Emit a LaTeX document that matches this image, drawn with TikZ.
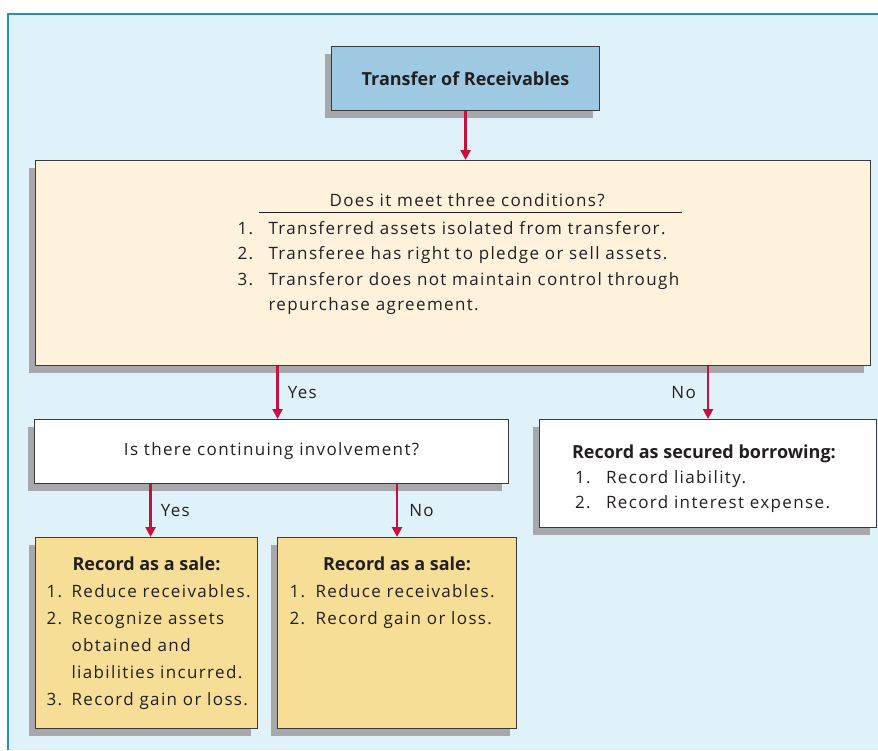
\documentclass[tikz,border=0pt]{standalone}
\usepackage{fontspec}
\setmainfont{Open Sans}[LetterSpace=8]
\newfontfamily\headfont{Open Sans}
\usetikzlibrary{arrows.meta,shadows}

\definecolor{trPanel}{HTML}{DFF2FA}
\definecolor{trPanelEdge}{HTML}{2A8CC4}
\definecolor{trTitle}{HTML}{9DCAE2}
\definecolor{trCream}{HTML}{FEF2DD}
\definecolor{trSale}{HTML}{F6DE96}
\definecolor{trShadow}{HTML}{A6A8AB}
\definecolor{trInk}{HTML}{231F20}
\definecolor{trArrow}{HTML}{C8103E}
\definecolor{trEdge}{HTML}{3A3A3A}

% numbered line with hanging indent: [lead]{indent}{number}{text}
\newcommand{\recitem}[4][0pt]{\par\hangindent=\dimexpr#1+#2\relax
  \noindent\hspace*{#1}\makebox[#2][l]{#3.}#4}
\newcommand{\rechead}[1]{{\headfont\bfseries\fontsize{18}{20}\selectfont #1}}

\begin{document}
\begin{tikzpicture}[
  x=1pt, y=-1pt, text=trInk,
  font=\fontsize{17}{20}\selectfont,
  tr box/.style={draw=trEdge,line width=1.1pt,inner sep=0pt,anchor=north west,
    drop shadow={shadow xshift=-7pt,shadow yshift=-7pt,fill=trShadow,opacity=1}},
  flow arrow/.style={draw=trArrow,line width=2.4pt,
    -{Triangle[width=10pt,length=10pt]}},
  flow label/.style={inner sep=3pt}
]
\useasboundingbox (0,0) rectangle (878,750);

% Panel behind the chart.
\fill[trPanel] (8,14) rectangle (878,750);
\draw[trPanelEdge,line width=2pt] (8,750) -- (8,14) -- (878,14);

% Boxes.
\node[tr box,fill=trTitle,minimum width=268pt,minimum height=64pt]
  (transfer) at (331,46) {\rechead{Transfer of Receivables}};

\node[tr box,fill=trCream,minimum width=835pt,minimum height=205pt]
  (cond) at (35,160) {\hspace{29pt}\parbox{460pt}{\raggedright
    \fontsize{17}{25.5}\selectfont
    \hspace*{21pt}\rlap{\rule[-6pt]{423pt}{0.9pt}}\hspace*{71pt}Does it meet three conditions?\par
    \vspace{2pt}
    \recitem{31pt}{1}{\mbox{Transferred assets isolated from transferor.}}
    \recitem{31pt}{2}{\mbox{Transferee has right to pledge or sell assets.}}
    \recitem{31pt}{3}{\mbox{Transferor does not maintain control through}\newline
      \mbox{repurchase agreement.}\rule[-22pt]{0pt}{0pt}}}};

\node[tr box,fill=white,minimum width=474pt,minimum height=64pt]
  (invol) at (34,419) {Is there continuing involvement?};

\node[tr box,fill=white,minimum width=337pt,minimum height=108pt]
  (secured) at (539,419) {\parbox{272pt}{\raggedright
    \fontsize{17}{25}\selectfont
    \rule{0pt}{23pt}\mbox{\rechead{Record as secured borrowing:}}\par
    \recitem[3pt]{31pt}{1}{\mbox{Record liability.}}
    \recitem[3pt]{31pt}{2}{\mbox{Record interest expense.}}}};

\node[tr box,fill=trSale,minimum width=222pt,minimum height=191pt]
  (saleRetain) at (35,537) {\parbox[c][175pt][t]{206pt}{\centering
    \fontsize{17}{27}\selectfont
    \rule{0pt}{25pt}\rechead{Record as a sale:}\par
    \raggedright
    \recitem[3pt]{25pt}{1}{\mbox{Reduce receivables.}}
    \recitem[3pt]{25pt}{2}{\mbox{Recognize assets}\newline
      \mbox{obtained and}\newline \mbox{liabilities incurred.}}
    \recitem[3pt]{25pt}{3}{\mbox{Record gain or loss.}}}};

\node[tr box,fill=trSale,minimum width=239pt,minimum height=191pt]
  (saleClean) at (277,537) {\parbox[c][175pt][t]{223pt}{\centering
    \fontsize{17}{27}\selectfont
    \rule{0pt}{25pt}\rechead{Record as a sale:}\par
    \raggedright
    \recitem[4pt]{26pt}{1}{\mbox{Reduce receivables.}}
    \recitem[4pt]{26pt}{2}{\mbox{Record gain or loss.}}}};

% Connectors.
\draw[flow arrow] (transfer.south) -- (transfer.south |- cond.north);
\draw[flow arrow] ([xshift=6pt]invol.north |- cond.south) -- ([xshift=6pt]invol.north)
  node[midway,flow label,anchor=west,xshift=6pt] (condYes) {Yes};
\draw[flow arrow] (secured.north |- cond.south) -- (secured.north)
  node[midway,flow label,anchor=east,xshift=-8pt] (condNo) {No};
\draw[flow arrow] ([xshift=4pt]saleRetain.north |- invol.south) -- ([xshift=4pt]saleRetain.north)
  node[midway,flow label,anchor=west,xshift=6pt] (involYes) {Yes};
\draw[flow arrow] (saleClean.north |- invol.south) -- (saleClean.north)
  node[midway,flow label,anchor=west,xshift=8pt] (involNo) {No};
\end{tikzpicture}
\end{document}
